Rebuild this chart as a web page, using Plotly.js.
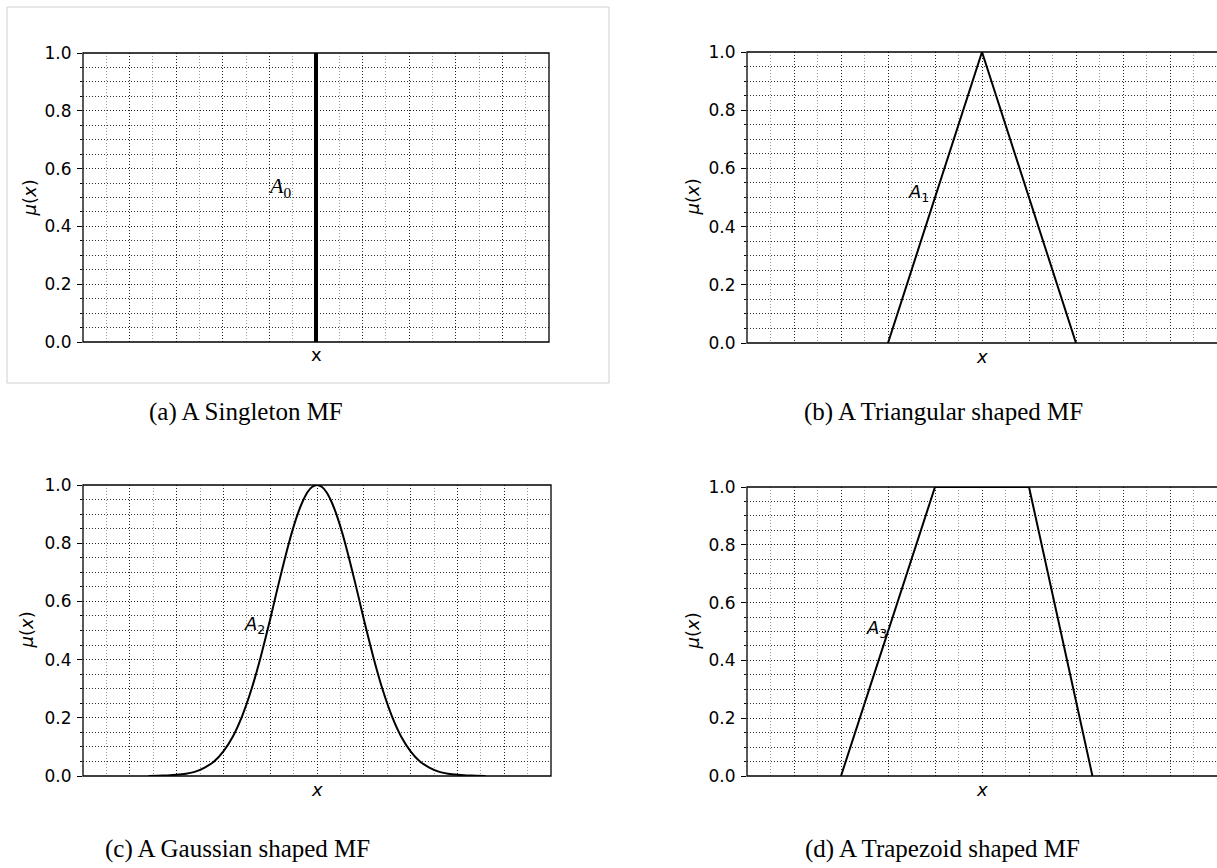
<!DOCTYPE html>
<html>
<head>
<meta charset="utf-8">
<script src="https://cdn.plot.ly/plotly-3.0.1.min.js"></script>
<style>
  html, body { margin: 0; padding: 0; background: #fff; }
  #chart { width: 1217px; height: 868px; }
</style>
</head>
<body>
<div id="chart"></div>
<script>
// ---------------- data ----------------
const xRange = [0, 20];
const yRange = [0, 1];
const yTickVals = [0, 0.2, 0.4, 0.6, 0.8, 1.0];
const yTickText = ['0.0', '0.2', '0.4', '0.6', '0.8', '1.0'];

// (a) singleton
const singletonX = [10, 10];
const singletonY = [0, 1];
// (b) triangular
const triangleX = [6, 10, 14];
const triangleY = [0, 1, 0];
// (c) gaussian
const gaussX = [2.8, 3.2, 3.6, 4.0, 4.4, 4.8, 5.2, 5.6, 6.0, 6.4, 6.8, 7.2, 7.6, 8.0, 8.2, 8.4, 8.6, 8.8, 9.0, 9.2, 9.4, 9.6, 9.8, 10.0,
                10.2, 10.4, 10.6, 10.8, 11.0, 11.2, 11.4, 11.6, 11.8, 12.0, 12.4, 12.8, 13.2, 13.6, 14.0, 14.4, 14.8, 15.2, 15.6, 16.0, 16.4, 16.8, 17.2];
const gaussY = [0.000, 0.001, 0.002, 0.004, 0.008, 0.015, 0.029, 0.050, 0.085, 0.135, 0.206, 0.298, 0.411, 0.539, 0.607, 0.674, 0.739, 0.801, 0.857, 0.906, 0.946, 0.976, 0.994, 1.000,
                0.994, 0.976, 0.946, 0.906, 0.857, 0.801, 0.739, 0.674, 0.607, 0.539, 0.411, 0.298, 0.206, 0.135, 0.085, 0.050, 0.029, 0.015, 0.008, 0.004, 0.002, 0.001, 0.000];
// (d) trapezoid
const trapezoidX = [4, 8, 12, 14.7];
const trapezoidY = [0, 1, 1, 0];

// labels
const setLabels = ['<i>A</i><sub>0</sub>', '<i>A</i><sub>1</sub>', '<i>A</i><sub>2</sub>', '<i>A</i><sub>3</sub>'];
const setLabelX = [8.45, 7.3, 7.35, 5.5];
const setLabelY = [0.535, 0.515, 0.52, 0.51];
const xTitles = ['x', '<i>x</i>', '<i>x</i>', '<i>x</i>'];
const yTitle = '<i>μ</i>(<i>x</i>)';
const captions = ['(a) A Singleton MF', '(b) A Triangular shaped MF', '(c) A Gaussian shaped MF', '(d) A Trapezoid shaped MF'];

// ---------------- layout helpers ----------------
const W = 1217, H = 868;
const px = x => x / W;
const py = y => 1 - y / H;

// plot areas in pixels: [left, right, top, bottom]
const boxes = [
  [83, 549, 53, 342],
  [747, 1217, 52, 343],
  [83, 551, 485, 776],
  [747, 1217, 487, 776]
];

const tickFont = { family: 'DejaVu Sans, sans-serif', size: 17, color: '#000' };
const labelFont = { family: 'DejaVu Sans, sans-serif', size: 18, color: '#000' };

function xAxis(i) {
  const b = boxes[i];
  return {
    domain: [px(b[0]), px(b[1])],
    anchor: 'y' + (i === 0 ? '' : i + 1),
    range: xRange,
    showticklabels: false,
    ticks: '',
    tick0: 0, dtick: 2,
    showgrid: true, gridcolor: '#222', gridwidth: 1, griddash: '1px,2px',
    minor: { dtick: 1, showgrid: true, gridcolor: '#999', gridwidth: 1, griddash: '1px,2px', ticks: '' },
    zeroline: false, showline: false, fixedrange: true
  };
}
function yAxis(i) {
  const b = boxes[i];
  return {
    domain: [py(b[3]), py(b[2])],
    anchor: 'x' + (i === 0 ? '' : i + 1),
    range: yRange,
    tickmode: 'array', tickvals: yTickVals, ticktext: yTickText,
    ticks: 'outside', ticklen: 5, tickwidth: 1, tickcolor: '#000',
    ticklabelstandoff: 2,
    tickfont: tickFont,
    showgrid: true, gridcolor: '#222', gridwidth: 1, griddash: '1px,2px',
    minor: { tick0: 0, dtick: 0.05, showgrid: true, gridcolor: '#333', gridwidth: 1, griddash: '1px,2px',
             ticks: 'outside', ticklen: 2, tickcolor: '#000' },
    zeroline: false, showline: false, fixedrange: true
  };
}

const lineStyle = { color: '#000', width: 2 };
const traces = [
  { x: singletonX, y: singletonY, xaxis: 'x', yaxis: 'y', mode: 'lines', line: { color: '#000', width: 4 }, cliponaxis: false },
  { x: triangleX, y: triangleY, xaxis: 'x2', yaxis: 'y2', mode: 'lines', line: lineStyle, cliponaxis: false },
  { x: gaussX, y: gaussY, xaxis: 'x3', yaxis: 'y3', mode: 'lines', line: Object.assign({ shape: 'spline', smoothing: 0.5 }, lineStyle), cliponaxis: false },
  { x: trapezoidX, y: trapezoidY, xaxis: 'x4', yaxis: 'y4', mode: 'lines', line: lineStyle, cliponaxis: false }
];

const shapes = [];
const annotations = [];
// light gray frame around panel (a)
shapes.push({ type: 'rect', xref: 'paper', yref: 'paper', x0: px(7), x1: px(609), y0: py(383), y1: py(7),
              line: { color: '#d0d0d0', width: 1 }, fillcolor: 'rgba(0,0,0,0)', layer: 'below' });

const ylabelX = [29, 692, 26, 692];
const xlabelY = [355, 356, 789, 789];
const captionX = [246, 943, 237, 942];
const captionY = [412, 412, 849, 849];

for (let i = 0; i < 4; i++) {
  const b = boxes[i];
  const xs = i === 0 ? 'x' : 'x' + (i + 1);
  const ys = i === 0 ? 'y' : 'y' + (i + 1);
  // axes frame
  shapes.push({ type: 'rect', xref: xs + ' domain', yref: ys + ' domain', x0: 0, x1: (i % 2 === 1) ? 1.02 : 1, y0: 0, y1: 1,
                line: { color: '#000', width: 1.3 }, fillcolor: 'rgba(0,0,0,0)', layer: 'above' });
  // set label
  annotations.push({ xref: xs, yref: ys, x: setLabelX[i], y: setLabelY[i], text: setLabels[i], showarrow: false,
                     xanchor: 'center', yanchor: 'middle',
                     font: i === 0 ? { family: 'Liberation Serif, DejaVu Serif, serif', size: 22, color: '#000' }
                                   : { family: 'DejaVu Sans, sans-serif', size: 18, color: '#000' } });
  // x title
  annotations.push({ xref: 'paper', yref: 'paper', x: px((b[0] + b[1]) / 2), y: py(xlabelY[i]),
                     text: xTitles[i], showarrow: false, xanchor: 'center', yanchor: 'middle',
                     font: labelFont });
  // y title
  annotations.push({ xref: 'paper', yref: 'paper', x: px(ylabelX[i]), y: py((b[2] + b[3]) / 2),
                     text: yTitle, showarrow: false, textangle: -90, xanchor: 'center', yanchor: 'middle',
                     font: labelFont });
  // caption
  annotations.push({ xref: 'paper', yref: 'paper', x: px(captionX[i]), y: py(captionY[i]),
                     text: captions[i], showarrow: false, xanchor: 'center', yanchor: 'middle',
                     font: { family: 'Liberation Serif, Times New Roman, serif', size: 25, color: '#000' } });
}

const layout = {
  width: W, height: H,
  margin: { l: 0, r: 0, t: 0, b: 0 },
  paper_bgcolor: '#fff', plot_bgcolor: '#fff',
  showlegend: false,
  shapes: shapes,
  annotations: annotations
};
for (let i = 0; i < 4; i++) {
  layout[i === 0 ? 'xaxis' : 'xaxis' + (i + 1)] = xAxis(i);
  layout[i === 0 ? 'yaxis' : 'yaxis' + (i + 1)] = yAxis(i);
}
layout.xaxis2.domain[1] = 1;
layout.xaxis4.domain[1] = 1;

Plotly.newPlot('chart', traces, layout, { displayModeBar: false, staticPlot: true });
</script>
</body>
</html>
